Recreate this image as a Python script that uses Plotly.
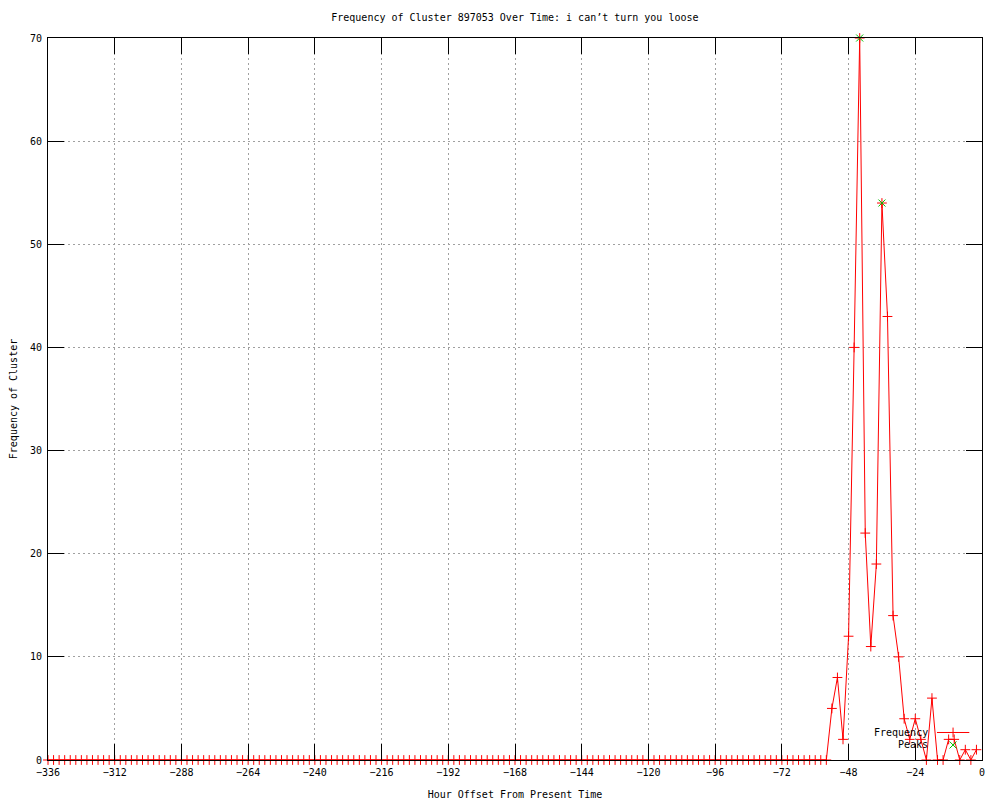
import plotly.graph_objects as go

# ---- data ----
hours = [
    -336, -334, -332, -330, -328, -326, -324, -322, -320, -318, -316, -314,
    -312, -310, -308, -306, -304, -302, -300, -298, -296, -294, -292, -290,
    -288, -286, -284, -282, -280, -278, -276, -274, -272, -270, -268, -266,
    -264, -262, -260, -258, -256, -254, -252, -250, -248, -246, -244, -242,
    -240, -238, -236, -234, -232, -230, -228, -226, -224, -222, -220, -218,
    -216, -214, -212, -210, -208, -206, -204, -202, -200, -198, -196, -194,
    -192, -190, -188, -186, -184, -182, -180, -178, -176, -174, -172, -170,
    -168, -166, -164, -162, -160, -158, -156, -154, -152, -150, -148, -146,
    -144, -142, -140, -138, -136, -134, -132, -130, -128, -126, -124, -122,
    -120, -118, -116, -114, -112, -110, -108, -106, -104, -102, -100, -98,
    -96, -94, -92, -90, -88, -86, -84, -82, -80, -78, -76, -74,
    -72, -70, -68, -66, -64, -62, -60, -58, -56, -54, -52, -50,
    -48, -46, -44, -42, -40, -38, -36, -34, -32, -30, -28, -26,
    -24, -22, -20, -18, -16, -14, -12, -10, -8, -6, -4, -2,
]
frequency = [
    0, 0, 0, 0, 0, 0, 0, 0, 0, 0, 0, 0,
    0, 0, 0, 0, 0, 0, 0, 0, 0, 0, 0, 0,
    0, 0, 0, 0, 0, 0, 0, 0, 0, 0, 0, 0,
    0, 0, 0, 0, 0, 0, 0, 0, 0, 0, 0, 0,
    0, 0, 0, 0, 0, 0, 0, 0, 0, 0, 0, 0,
    0, 0, 0, 0, 0, 0, 0, 0, 0, 0, 0, 0,
    0, 0, 0, 0, 0, 0, 0, 0, 0, 0, 0, 0,
    0, 0, 0, 0, 0, 0, 0, 0, 0, 0, 0, 0,
    0, 0, 0, 0, 0, 0, 0, 0, 0, 0, 0, 0,
    0, 0, 0, 0, 0, 0, 0, 0, 0, 0, 0, 0,
    0, 0, 0, 0, 0, 0, 0, 0, 0, 0, 0, 0,
    0, 0, 0, 0, 0, 0, 0, 0, 0, 5, 8, 2,
    12, 40, 70, 22, 11, 19, 54, 43, 14, 10, 4, 2,
    4, 2, 0, 6, 0, 0, 2, 2, 0, 1, 0, 1,
]
peak_hours = [-44, -36]
peak_values = [70, 54]

title_text = "Frequency of Cluster 897053 Over Time: i can\u2019t turn you loose"
x_title = "Hour Offset From Present Time"
y_title = "Frequency of Cluster"

FONT = "DejaVu Sans Mono"
RED = "#ff0000"
GREEN = "#00c000"

fig = go.Figure()
fig.add_trace(go.Scatter(
    x=hours, y=frequency, mode="lines+markers", name="Frequency",
    line=dict(color=RED, width=1),
    marker=dict(symbol="cross-thin", size=7, line=dict(color=RED, width=1), color=RED),
    cliponaxis=False, showlegend=False,
))
fig.add_trace(go.Scatter(
    x=peak_hours, y=peak_values, mode="markers", name="Peaks",
    marker=dict(symbol="x-thin", size=7, line=dict(color=GREEN, width=1), color=GREEN),
    cliponaxis=False, showlegend=False,
))

# legend samples (gnuplot style: text left, sample right) on an overlay paper-like axis
fig.add_trace(go.Scatter(
    x=[0.9518, 0.9864], y=[0.0381, 0.0381], mode="lines",
    line=dict(color=RED, width=1), xaxis="x2", yaxis="y2",
    showlegend=False, hoverinfo="skip", cliponaxis=False,
))
fig.add_trace(go.Scatter(
    x=[0.969], y=[0.0381], mode="markers",
    marker=dict(symbol="cross-thin", size=7, line=dict(color=RED, width=1)),
    xaxis="x2", yaxis="y2", showlegend=False, hoverinfo="skip", cliponaxis=False,
))
fig.add_trace(go.Scatter(
    x=[0.969], y=[0.0208], mode="markers",
    marker=dict(symbol="x-thin", size=7, line=dict(color=GREEN, width=1)),
    xaxis="x2", yaxis="y2", showlegend=False, hoverinfo="skip", cliponaxis=False,
))

axis_common = dict(
    showline=True, linecolor="black", linewidth=1, mirror="ticks",
    ticks="inside", ticklen=16, tickwidth=1, tickcolor="black",
    showgrid=True, gridcolor="#a0a0a0", gridwidth=1, griddash="2px,3px",
    zeroline=False, automargin=False, ticklabelstandoff=3,
    tickfont=dict(family=FONT, size=10, color="black"),
)

# page body has an 8px default margin, so the figure is sized/offset to compensate
fig.update_layout(
    width=992, height=792,
    margin=dict(l=40, r=18, t=30, b=40, autoexpand=False),
    paper_bgcolor="white", plot_bgcolor="white",
    font=dict(family=FONT, size=10, color="black"),
    title=dict(text=title_text, x=0.511, xanchor="center", y=0.9874, yanchor="middle",
               automargin=False,
               font=dict(family=FONT, size=10, color="black")),
    xaxis=dict(range=[-336, 0], tick0=0, dtick=24,
               title=dict(text=x_title, standoff=13, font=dict(family=FONT, size=10)),
               **axis_common),
    yaxis=dict(range=[0, 70], tick0=0, dtick=10,
               title=dict(text=y_title, standoff=11, font=dict(family=FONT, size=10)),
               **axis_common),
    xaxis2=dict(overlaying="x", range=[0, 1], visible=False, fixedrange=True),
    yaxis2=dict(overlaying="y", range=[0, 1], visible=False, fixedrange=True),
    showlegend=False,
    annotations=[
        dict(text="Frequency", xref="paper", yref="paper", x=0.9443, y=0.0381,
             xanchor="right", yanchor="middle", showarrow=False,
             font=dict(family=FONT, size=10, color="black")),
        dict(text="Peaks", xref="paper", yref="paper", x=0.9443, y=0.0208,
             xanchor="right", yanchor="middle", showarrow=False,
             font=dict(family=FONT, size=10, color="black")),
    ],
)

fig.write_html("out.html")
